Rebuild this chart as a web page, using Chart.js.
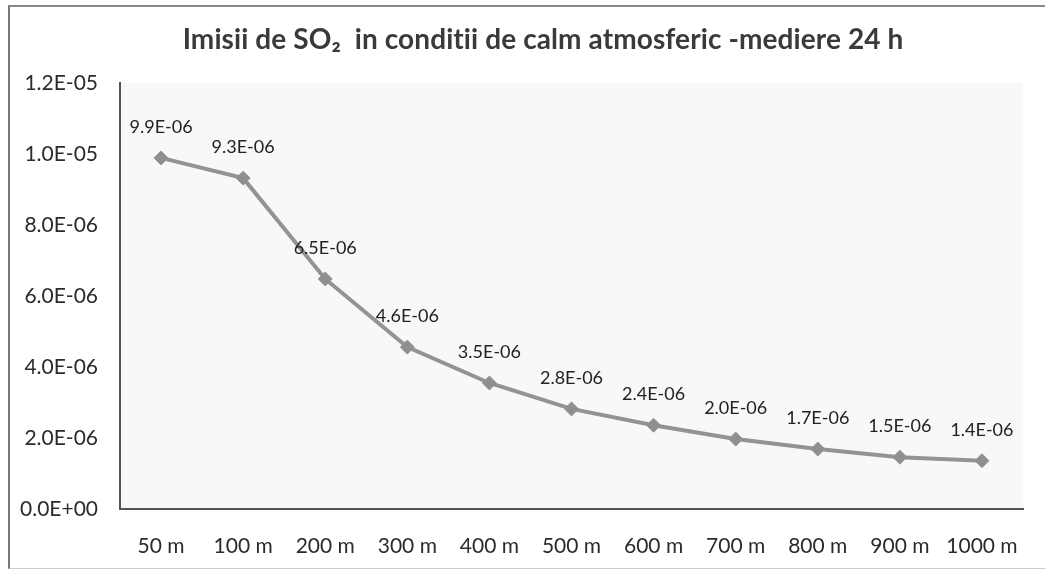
<!DOCTYPE html>
<html>
<head>
<meta charset="utf-8">
<script src="https://cdn.jsdelivr.net/npm/chart.js@4"></script>
<style>
  html, body { margin: 0; padding: 0; background: #fff; }
  #wrap { position: absolute; left: 0; top: 0; width: 1045px; height: 571px; }
  #frame { position: absolute; left: 8px; top: 5px; width: 1045px; height: 561px;
           border-left: 2px solid #777; border-top: 2px solid #888; border-bottom: 1px solid #ccc; }
</style>
</head>
<body>
<div id="wrap">
  <div id="frame"></div>
  <canvas id="so2Chart" width="1045" height="571"></canvas>
</div>
<script>
// distante fata de sursa
const distances = ["50 m", "100 m", "200 m", "300 m", "400 m", "500 m", "600 m", "700 m", "800 m", "900 m", "1000 m"];
// imisii SO2 (mediere 24 h)
const imisii = [9.89e-6, 9.32e-6, 6.48e-6, 4.56e-6, 3.55e-6, 2.82e-6, 2.36e-6, 1.97e-6, 1.69e-6, 1.46e-6, 1.36e-6];
const yTicks = [0, 2e-6, 4e-6, 6e-6, 8e-6, 1e-5, 1.2e-5];
const chartTitle = "Imisii de SO\u2082  in conditii de calm atmosferic -mediere 24 h";

const FONT = "Lato, 'DejaVu Sans Condensed', sans-serif";

// format stil Excel: 9.9E-06
function excelExp(v) {
  const s = Number(v).toExponential(1).toUpperCase();
  const [m, e] = s.split("E");
  const sign = e[0] === "-" ? "-" : "+";
  const digits = e.replace(/[+-]/, "").padStart(2, "0");
  return m + "E" + sign + digits;
}

// etichete de date deasupra punctelor
const pointLabels = {
  id: "pointLabels",
  afterDatasetsDraw(chart) {
    const ctx = chart.ctx;
    const meta = chart.getDatasetMeta(0);
    ctx.save();
    ctx.font = "18px " + FONT;
    ctx.fillStyle = "#222";
    ctx.textAlign = "center";
    ctx.textBaseline = "middle";
    meta.data.forEach((pt, i) => {
      ctx.fillText(excelExp(imisii[i]), pt.x, pt.y - 31);
    });
    ctx.restore();
  }
};

// fundal zona grafic + titlu
const plotBg = {
  id: "plotBg",
  beforeDraw(chart) {
    const { ctx, chartArea } = chart;
    ctx.save();
    ctx.fillStyle = "#f8f8f8";
    ctx.fillRect(chartArea.left, chartArea.top, chartArea.right - chartArea.left, chartArea.bottom - chartArea.top);
    ctx.font = "bold 28px " + FONT;
    ctx.letterSpacing = "0.1px";
    ctx.fillStyle = "#3a3a3a";
    ctx.textAlign = "center";
    ctx.textBaseline = "middle";
    ctx.fillText(chartTitle, 543, 40);
    ctx.restore();
  }
};

new Chart(document.getElementById("so2Chart"), {
  type: "line",
  data: {
    labels: distances,
    datasets: [{
      data: imisii,
      borderColor: "#939393",
      backgroundColor: "#8f8f8f",
      borderWidth: 4,
      pointStyle: "rectRot",
      pointRadius: 7,
      pointBorderWidth: 1,
      tension: 0
    }]
  },
  options: {
    responsive: false,
    animation: false,
    layout: { padding: { left: 0, right: 22, top: 83, bottom: 12 } },
    plugins: {
      legend: { display: false },
      tooltip: { enabled: false },
      title: { display: false }
    },
    scales: {
      x: {
        offset: true,
        grid: { display: false, drawTicks: false },
        border: { color: "#555", width: 2 },
        ticks: { color: "#2b2b2b", font: { family: FONT, size: 21 }, padding: 25, maxRotation: 0 },
        afterFit(scale) { scale.height = 50; }
      },
      y: {
        min: 0,
        max: 1.2e-5,
        afterBuildTicks(scale) { scale.ticks = yTicks.map(v => ({ value: v })); },
        afterFit(scale) { scale.width = 120; },
        grid: { display: false, drawTicks: false },
        border: { color: "#555", width: 2 },
        ticks: { color: "#2b2b2b", font: { family: FONT, size: 21 }, padding: 22, callback: v => excelExp(v) }
      }
    }
  },
  plugins: [plotBg, pointLabels]
});
</script>
</body>
</html>
